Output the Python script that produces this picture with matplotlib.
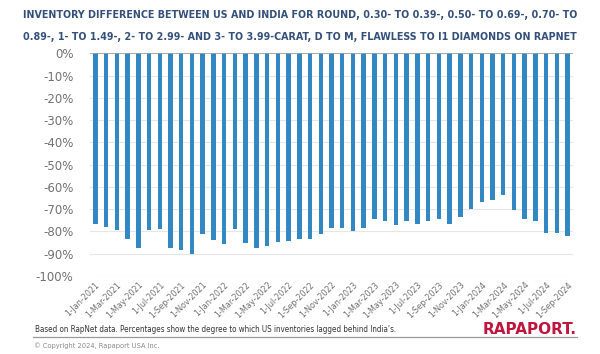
import matplotlib
matplotlib.use("Agg")
import logging
import matplotlib.pyplot as plt
from matplotlib.lines import Line2D

logging.getLogger("matplotlib.font_manager").setLevel(logging.ERROR)

# monthly, 1-Jan-2021 .. 1-Sep-2024
months = ["Jan", "Feb", "Mar", "Apr", "May", "Jun", "Jul", "Aug", "Sep", "Oct", "Nov", "Dec"]
dates = [f"1-{m}-{y}" for y in (2021, 2022, 2023, 2024) for m in months][:45]

# inventory difference, %
diff_pct = [
    -76.7, -78.2, -79.4, -83.6, -87.6, -79.2, -79.1, -87.6, -88.4, -89.9,
    -81.2, -84.0, -85.7, -78.8, -85.1, -87.6, -86.7, -84.6, -84.3, -83.3,
    -83.6, -81.2, -78.3, -78.3, -79.9, -78.3, -74.6, -75.2, -76.9, -75.5,
    -76.5, -75.3, -74.3, -76.7, -73.7, -69.8, -66.6, -65.7, -63.5, -70.3,
    -74.2, -75.5, -80.8, -80.8, -81.9,
]
yticks = list(range(0, -101, -10))

title_1 = "INVENTORY DIFFERENCE BETWEEN US AND INDIA FOR ROUND, 0.30- TO 0.39-, 0.50- TO 0.69-, 0.70- TO"
title_2 = "0.89-, 1- TO 1.49-, 2- TO 2.99- AND 3- TO 3.99-CARAT, D TO M, FLAWLESS TO I1 DIAMONDS ON RAPNET"
note_txt = "Based on RapNet data. Percentages show the degree to which US inventories lagged behind India\u2019s."
copy_txt = "\u00a9 Copyright 2024, Rapaport USA Inc."

fig = plt.figure(figsize=(6, 3.54), dpi=100)
renderer = fig.canvas.get_renderer()


def fit_text(t, width_px):
    # no narrow font around, so scale the size until the text fills the wanted width
    w = t.get_window_extent(renderer).width
    t.set_fontsize(t.get_fontsize() * width_px / w)


ax = fig.add_axes([0.15, 0.2203, 0.805, 0.629])

x = list(range(len(dates)))
ax.bar(x, diff_pct, width=0.42, color="#3288c2", zorder=3)

ax.set_ylim(-100, 0)
ax.set_xlim(-0.5, len(dates) - 0.5)
ax.set_yticks(yticks)
ax.set_yticklabels([f"{v}%" for v in yticks], color="#707070", fontsize=8.5)
ax.yaxis.grid(True, color="#e6e6e6", lw=0.8, zorder=0)
ax.tick_params(axis="both", length=0)
ax.tick_params(axis="y", pad=12)
ax.tick_params(axis="x", pad=3)

ax.set_xticks(x[::2])
ax.set_xticklabels(dates[::2], rotation=45, ha="right", rotation_mode="anchor",
                   color="#707070", fontsize=6.5, fontstretch="condensed")
for s in ax.spines.values():
    s.set_visible(False)
ax.axhline(0, color="#a0a0a0", lw=1.2, zorder=4)

t1 = fig.text(0.5, 1 - 15 / 354, title_1, ha="center", va="center", fontsize=10,
              fontweight="bold", color="#34507a", fontstretch="condensed")
t2 = fig.text(0.5, 1 - 37 / 354, title_2, ha="center", va="center", fontsize=10,
              fontweight="bold", color="#34507a", fontstretch="condensed")
fit_text(t1, 552)
fit_text(t2, 552)

note = fig.text(35 / 600, 1 - 330 / 354, note_txt, ha="left", va="center", fontsize=6,
                color="#333333", fontstretch="condensed")
fit_text(note, 365)
fig.add_artist(Line2D([33 / 600, 577 / 600], [1 - 337 / 354, 1 - 337 / 354],
                      color="#999999", lw=0.9))
cp = fig.text(34 / 600, 1 - 345.5 / 354, copy_txt, ha="left", va="center", fontsize=5,
              color="#888888", fontstretch="condensed")
fit_text(cp, 126)
logo = fig.text(577 / 600, 1 - 329 / 354, "RAPAPORT.", ha="right", va="center", fontsize=10,
                fontweight="bold", color="#c0143c")
fit_text(logo, 95)

fig.savefig("out.png", dpi=100, facecolor="white")
